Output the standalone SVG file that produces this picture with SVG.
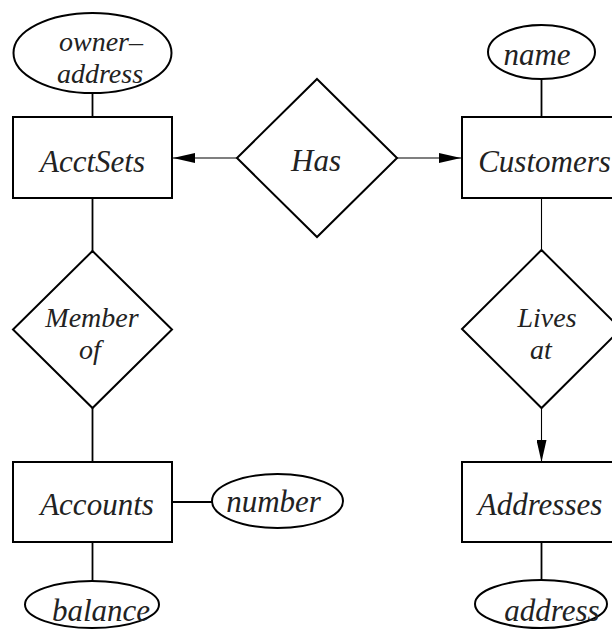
<svg xmlns="http://www.w3.org/2000/svg" width="612" height="630" viewBox="0 0 612 630">
<style>
.shape{fill:#fff;stroke:#000;stroke-width:2}
.lbl{font-family:"Liberation Serif","Times New Roman","DejaVu Serif",serif;font-style:italic;font-size:31px;fill:#222;text-anchor:middle}
.two{font-size:28px}
.ln{stroke:#000;stroke-width:1.8;fill:none}
.thin{stroke:#000;stroke-width:1.1;fill:none}
</style>
<defs>
<marker id="arr" viewBox="0 0 22 10" refX="22" refY="5" markerWidth="22" markerHeight="10" markerUnits="userSpaceOnUse" orient="auto">
<path d="M0,0 L22,5 L0,10 z" fill="#000"/>
</marker>
</defs>
<rect width="612" height="630" fill="#fff"/>
<g id="connectors">
<line class="ln" x1="92.5" y1="93" x2="92.5" y2="117"/>
<line class="thin" x1="237" y1="158" x2="173" y2="158" marker-end="url(#arr)"/>
<line class="thin" x1="397" y1="158" x2="461" y2="158" marker-end="url(#arr)"/>
<line class="ln" x1="541.5" y1="79" x2="541.5" y2="117"/>
<line class="ln" x1="92.5" y1="198" x2="92.5" y2="251"/>
<line class="thin" x1="541.5" y1="198" x2="541.5" y2="250"/>
<line class="ln" x1="92.5" y1="408" x2="92.5" y2="462"/>
<line class="thin" x1="541.5" y1="408" x2="541.5" y2="462" marker-end="url(#arr)"/>
<line class="ln" x1="172" y1="502" x2="212" y2="502" stroke-width="2.6"/>
<line class="ln" x1="92.5" y1="542" x2="92.5" y2="581"/>
<line class="ln" x1="541.5" y1="542" x2="541.5" y2="580"/>
</g>
<g id="owner-address">
<ellipse class="shape" cx="92.5" cy="53" rx="79" ry="40"/>
<text class="lbl two" x="101" y="51">owner–</text>
<text class="lbl two" x="100" y="82.5">address</text>
</g>
<g id="AcctSets">
<rect class="shape" x="13" y="117" width="159" height="81"/>
<text class="lbl" x="92.5" y="172">AcctSets</text>
</g>
<g id="Has">
<polygon class="shape" points="317,79 397,158 317,237 237,158"/>
<text class="lbl" x="316" y="171">Has</text>
</g>
<g id="name">
<ellipse class="shape" cx="541.5" cy="52" rx="53.5" ry="27"/>
<text class="lbl" x="537" y="65">name</text>
</g>
<g id="Customers">
<rect class="shape" x="462" y="117" width="159" height="81"/>
<text class="lbl" x="544.5" y="172">Customers</text>
</g>
<g id="MemberOf">
<polygon class="shape" points="92.5,251 172,329.5 92.5,408 13,329.5"/>
<text class="lbl two" x="92" y="327">Member</text>
<text class="lbl two" x="90" y="358.5">of</text>
</g>
<g id="LivesAt">
<polygon class="shape" points="541.5,250 621,329 541.5,408 462,329"/>
<text class="lbl two" x="547" y="327">Lives</text>
<text class="lbl two" x="541" y="358.5">at</text>
</g>
<g id="Accounts">
<rect class="shape" x="13" y="462" width="159" height="80"/>
<text class="lbl" x="97" y="515">Accounts</text>
</g>
<g id="number">
<ellipse class="shape" cx="277.5" cy="501" rx="65.5" ry="27"/>
<text class="lbl" x="273.5" y="512">number</text>
</g>
<g id="Addresses">
<rect class="shape" x="462" y="462" width="159" height="80"/>
<text class="lbl" x="540" y="515">Addresses</text>
</g>
<g id="balance">
<ellipse class="shape" cx="92" cy="604.5" rx="67" ry="23.5"/>
<text class="lbl" x="101" y="621">balance</text>
</g>
<g id="address">
<ellipse class="shape" cx="541" cy="604" rx="66" ry="24"/>
<text class="lbl" x="552" y="621">address</text>
</g>
</svg>
